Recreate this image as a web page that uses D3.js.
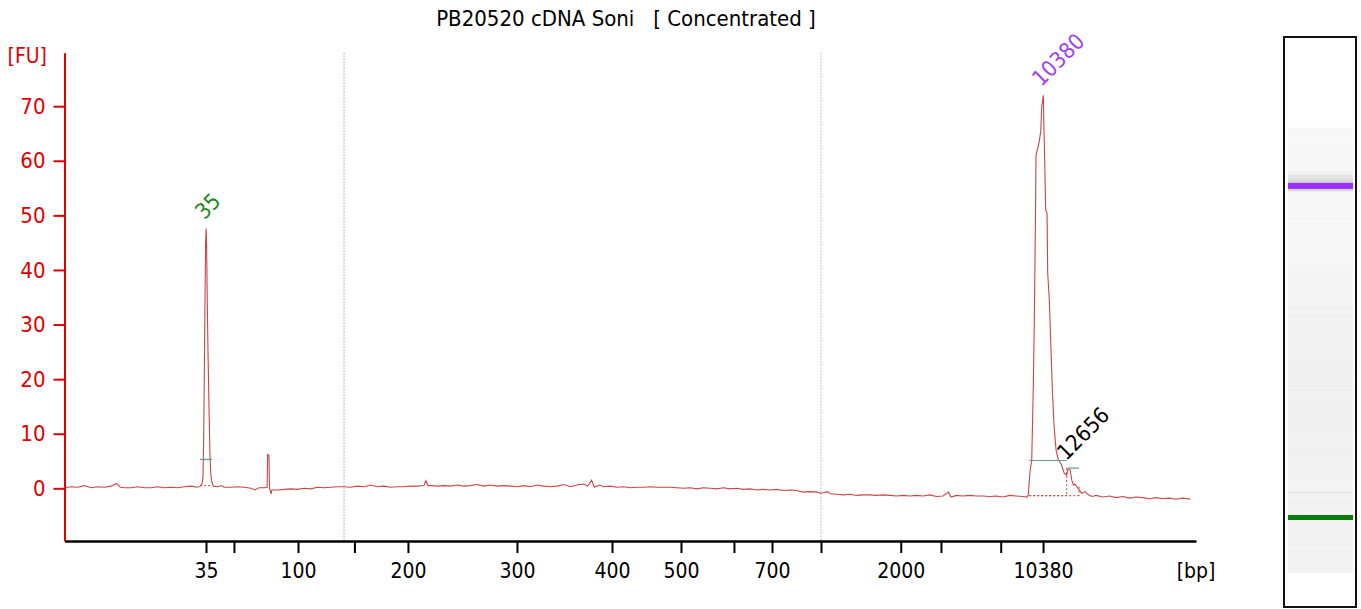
<!DOCTYPE html>
<html>
<head>
<meta charset="utf-8">
<script src="https://d3js.org/d3.v7.min.js"></script>
<style>
  body { margin: 0; background: #fff; }
  text { font-family: "DejaVu Sans Condensed", "DejaVu Sans", sans-serif; font-stretch: condensed; }
</style>
</head>
<body>
<div id="chart"></div>
<script>
// Electropherogram data (time in seconds, fluorescence in FU)
var chartTitle = "PB20520 cDNA Soni   [ Concentrated ]";

// ladder sizes and their migration times -> x axis ticks
var ladderBp = [35, 50, 100, 150, 200, 300, 400, 500, 600, 700, 1000, 2000, 3000, 7000, 10380];
var ladderTime = [50.63, 52.73, 57.54, 61.78, 65.80, 73.99, 81.13, 86.31, 90.29, 93.15, 96.83, 102.82, 105.84, 110.33, 113.51];
var tickLabels = ["35", "", "100", "", "200", "300", "400", "500", "", "700", "", "2000", "", "", "10380"];

var yTicks = [0, 10, 20, 30, 40, 50, 60, 70];

// region (smear) boundaries
var regionTimes = [61.0, 96.83];

// peaks found
var peakNames = ["35", "10380", "12656"];
var peakTime = [50.64, 113.53, 115.40];
var peakFu = [47.6, 72.0, 3.5];
var peakColors = ["#1a8a1a", "#a040f0", "#000000"];
var peakStart = [50.18, 112.47, 115.29];
var peakEnd = [51.08, 115.29, 116.22];
var peakLevel = [5.3, 5.1, 3.7];
var peakBase = [0.5, -1.35, -1.35];

// trace [time, FU]
var trace = [
  [40.0, 0.1], [40.5, 0.3], [41.0, 0.2], [41.5, 0.5], [42.0, 0.1], [42.5, 0.3], [43.0, 0.2], [43.5, 0.4],
  [43.9, 0.9], [44.2, 0.2], [44.5, 0.1], [45.0, 0.1], [45.5, 0.3], [46.0, 0.1], [46.5, 0.1], [47.0, 0.3],
  [47.5, 0.1], [48.0, 0.2], [48.5, 0.1], [49.0, 0.3], [49.5, 0.4], [50.0, 0.2], [50.2, 0.4], [50.33, 0.8],
  [50.40, 2], [50.45, 8], [50.50, 20], [50.55, 33], [50.60, 45], [50.64, 47.6], [50.68, 44], [50.72, 35],
  [50.78, 25], [50.86, 14], [50.93, 6], [50.98, 3], [51.05, 1.4], [51.12, 0.7], [51.2, 0.4], [51.5, 0.3],
  [51.8, 0.5], [52.0, 0.2], [52.5, 0.2], [53.0, 0.3], [53.5, 0.2], [54.0, 0.0], [54.3, -0.3], [54.6, 0.1],
  [55.0, 0.1], [55.22, 0.2], [55.26, 6.2], [55.36, 6.0], [55.40, 0.0], [55.45, -0.3], [55.52, -1.0], [55.58, -0.3],
  [56.0, -0.3], [56.5, -0.2], [57.0, -0.1], [57.5, -0.2], [58.0, 0.0], [58.5, -0.1], [59.0, 0.2], [59.5, 0.1],
  [60.0, 0.2], [60.5, 0.3], [61.0, 0.3], [61.5, 0.2], [62.0, 0.4], [62.5, 0.3], [63.0, 0.6], [63.5, 0.3],
  [64.0, 0.4], [64.5, 0.2], [65.0, 0.3], [65.5, 0.3], [66.0, 0.4], [66.5, 0.4], [67.0, 0.5], [67.15, 1.4],
  [67.3, 0.5], [67.5, 0.5], [68.0, 0.4], [68.5, 0.5], [69.0, 0.4], [69.5, 0.6], [70.0, 0.4], [70.5, 0.5],
  [71.0, 0.7], [71.5, 0.4], [72.0, 0.6], [72.5, 0.4], [73.0, 0.5], [73.5, 0.4], [74.0, 0.3], [74.5, 0.5],
  [75.0, 0.3], [75.5, 0.6], [76.0, 0.4], [76.5, 0.3], [77.0, 0.4], [77.5, 0.7], [78.0, 0.3], [78.5, 0.6],
  [79.0, 0.8], [79.3, 0.4], [79.6, 1.5], [79.8, 0.2], [80.2, 0.6], [80.5, 0.3], [81.0, 0.4], [81.5, 0.2],
  [82.0, 0.3], [82.5, 0.1], [83.0, 0.2], [83.5, 0.2], [84.0, 0.3], [84.5, 0.2], [85.0, 0.2], [85.5, 0.2],
  [86.0, 0.1], [86.5, 0.0], [87.0, 0.1], [87.5, -0.1], [88.0, 0.1], [88.5, 0.0], [89.0, -0.1], [89.5, 0.1],
  [90.0, -0.1], [90.5, 0.0], [91.0, -0.2], [91.5, -0.1], [92.0, -0.3], [92.5, -0.2], [93.0, -0.3], [93.5, -0.2],
  [94.0, -0.4], [94.5, -0.3], [95.0, -0.4], [95.5, -0.7], [96.0, -0.6], [96.5, -0.7], [96.8, -0.9], [97.0, -0.8],
  [97.3, -0.6], [97.5, -1.0], [98.0, -1.1], [98.5, -1.2], [99.0, -1.1], [99.5, -1.3], [100.0, -1.2], [100.5, -1.2],
  [101.0, -1.3], [101.5, -1.2], [102.0, -1.3], [102.5, -1.4], [103.0, -1.3], [103.5, -1.4], [104.0, -1.3], [104.5, -1.4],
  [105.0, -1.2], [105.5, -1.5], [106.0, -1.4], [106.4, -0.7], [106.6, -1.6], [107.0, -1.3], [107.5, -1.4], [108.0, -1.3],
  [108.5, -1.4], [109.0, -1.4], [109.5, -1.5], [110.0, -1.4], [110.5, -1.6], [111.0, -1.3], [111.5, -1.4], [112.0, -1.5],
  [112.3, -1.6], [112.40, -1.2], [112.53, 3], [112.66, 5.2], [112.72, 12], [112.78, 19], [112.85, 30], [112.91, 43],
  [112.95, 52], [112.98, 61], [113.13, 62.5], [113.23, 63.6], [113.34, 65.5], [113.41, 69.9], [113.53, 72.0], [113.57, 66.9],
  [113.61, 62.6], [113.71, 51], [113.81, 50.4], [113.86, 39.4], [113.98, 34.5], [114.11, 25.3], [114.21, 18], [114.34, 11.3],
  [114.49, 7], [114.66, 5.2], [114.84, 4.6], [114.94, 4.0], [115.09, 2.8], [115.29, 2.4], [115.37, 3.4], [115.54, 3.4],
  [115.67, 1.5], [115.79, 0.6], [115.9, 0.8], [116.04, 0.3], [116.22, -0.3], [116.42, -0.9], [116.67, -0.6], [116.91, -1.2],
  [117.2, -1.5], [117.5, -1.3], [118.0, -1.6], [118.5, -1.4], [119.0, -1.7], [119.5, -1.5], [120.0, -1.8], [120.5, -1.6],
  [121.0, -1.7], [121.5, -1.9], [122.0, -1.7], [122.5, -1.9], [123.0, -1.8], [123.5, -2.0], [124.0, -1.8], [124.6, -2.0]
];

var svgWidth = 1361;
var svgHeight = 609;

var svg = d3.select("#chart")
  .append("svg")
  .attr("width", svgWidth)
  .attr("height", svgHeight);

// scales
var xScale = d3.scaleLinear().domain([40, 125]).range([64.5, 1196]);
var yScale = d3.scaleLinear().domain([-9.65, 79.8]).range([541, 52.7]);

// title
svg.append("text")
  .attr("x", 626)
  .attr("y", 26)
  .attr("text-anchor", "middle")
  .attr("font-size", "22px")
  .attr("fill", "#000")
  .style("white-space", "pre")
  .text(chartTitle);

// region boundary lines
svg.selectAll(null)
  .data(regionTimes)
  .enter()
  .append("line")
  .attr("x1", d => xScale(d))
  .attr("x2", d => xScale(d))
  .attr("y1", yScale.range()[1])
  .attr("y2", yScale.range()[0])
  .attr("stroke", (d, i) => i == 0 ? "#6a6ac8" : "#8c8cb8")
  .attr("stroke-width", 1)
  .attr("stroke-dasharray", "1,2");

// x axis
var bottomAxis = d3.axisBottom(xScale)
  .tickValues(ladderTime)
  .tickFormat((d, i) => tickLabels[i])
  .tickSize(12)
  .tickSizeOuter(0)
  .tickPadding(10);

var xAxisG = svg.append("g")
  .attr("transform", "translate(0, 541)")
  .call(bottomAxis);
xAxisG.select(".domain").attr("stroke", "#000").attr("stroke-width", 2.5);
xAxisG.selectAll(".tick line").attr("stroke", "#000").attr("stroke-width", 2);
xAxisG.selectAll(".tick text")
  .attr("font-size", "21px")
  .attr("font-family", null)
  .attr("fill", "#000");

svg.append("text")
  .attr("x", xScale.range()[1])
  .attr("y", 578)
  .attr("text-anchor", "middle")
  .attr("font-size", "21px")
  .text("[bp]");

// y axis
var leftAxis = d3.axisLeft(yScale)
  .tickValues(yTicks)
  .tickSize(11)
  .tickSizeOuter(0)
  .tickPadding(8);

var yAxisG = svg.append("g")
  .attr("transform", "translate(64.5, 0)")
  .call(leftAxis);
yAxisG.select(".domain").attr("stroke", "#e00000").attr("stroke-width", 2);
yAxisG.selectAll(".tick line").attr("stroke", "#e00000").attr("stroke-width", 2);
yAxisG.selectAll(".tick text")
  .attr("font-size", "22px")
  .attr("font-family", null)
  .attr("fill", "#e00000");

svg.append("text")
  .attr("x", 47)
  .attr("y", 63)
  .attr("text-anchor", "end")
  .attr("font-size", "21px")
  .attr("fill", "#e00000")
  .text("[FU]");

// peak baseline (dotted) and limits
svg.selectAll(null)
  .data(peakStart)
  .enter()
  .append("line")
  .attr("x1", (d, i) => xScale(i == 2 ? peakStart[1] : d))
  .attr("x2", (d, i) => xScale(peakEnd[i]))
  .attr("y1", (d, i) => yScale(peakBase[i]))
  .attr("y2", (d, i) => yScale(peakBase[i]))
  .attr("stroke", "#cc4444")
  .attr("stroke-width", 1)
  .attr("stroke-dasharray", "2,2");

svg.selectAll(null)
  .data([1, 2])
  .enter()
  .append("line")
  .attr("x1", i => xScale(peakEnd[i]))
  .attr("x2", i => xScale(peakEnd[i]))
  .attr("y1", i => yScale(i == 1 ? peakLevel[2] : 0.3))
  .attr("y2", i => yScale(peakBase[i]))
  .attr("stroke", "#cc4444")
  .attr("stroke-width", 1)
  .attr("stroke-dasharray", "2,2");

// trace
var line = d3.line()
  .x(d => xScale(d[0]))
  .y(d => yScale(d[1]));

svg.append("path")
  .datum(trace)
  .attr("d", line)
  .attr("fill", "none")
  .attr("stroke", "#cc4444")
  .attr("stroke-width", 1.1);

// peak start / end markers
svg.selectAll(null)
  .data(peakStart)
  .enter()
  .append("line")
  .attr("x1", d => xScale(d))
  .attr("x2", (d, i) => xScale(peakEnd[i]))
  .attr("y1", (d, i) => yScale(peakLevel[i]))
  .attr("y2", (d, i) => yScale(peakLevel[i]))
  .attr("stroke", "#5a9e94")
  .attr("stroke-width", 1.2);

// peak labels
svg.selectAll(null)
  .data(peakNames)
  .enter()
  .append("text")
  .attr("transform", (d, i) => `translate(${xScale(peakTime[i]) - 2}, ${yScale(peakFu[i]) - 8}) rotate(-45)`)
  .attr("font-size", "22px")
  .attr("fill", (d, i) => peakColors[i])
  .text(d => d);

// gel lane on the right
var laneY = d3.scaleLinear().domain([40, 125]).range([573, 125.5]);
var laneGray = d3.scaleLinear()
  .domain([-2, 0, 4, 10])
  .range(["#f8f8f8", "#f2f2f2", "#dedede", "#d2d2d2"])
  .clamp(true);

var lane = svg.append("g");

lane.append("rect")
  .attr("x", 1284)
  .attr("y", 37)
  .attr("width", 72)
  .attr("height", 570)
  .attr("fill", "#fff");

lane.selectAll(null)
  .data(trace.slice(0, -1))
  .enter()
  .append("rect")
  .attr("x", 1288)
  .attr("width", 65)
  .attr("y", (d, i) => laneY(trace[i + 1][0]))
  .attr("height", (d, i) => laneY(d[0]) - laneY(trace[i + 1][0]) + 0.3)
  .attr("fill", d => laneGray(d[1]));

// bands for the labelled peaks
lane.selectAll(null)
  .data([0, 1])
  .enter()
  .append("rect")
  .attr("x", 1288)
  .attr("width", 65)
  .attr("y", i => laneY(peakTime[i]) - (i == 1 ? 3 : 2))
  .attr("height", i => i == 1 ? 6 : 5)
  .attr("fill", i => i == 1 ? "#9b30ff" : "#0a7a0a");

lane.append("rect")
  .attr("x", 1284)
  .attr("y", 37)
  .attr("width", 72)
  .attr("height", 570)
  .attr("fill", "none")
  .attr("stroke", "#111")
  .attr("stroke-width", 2);
</script>
</body>
</html>
